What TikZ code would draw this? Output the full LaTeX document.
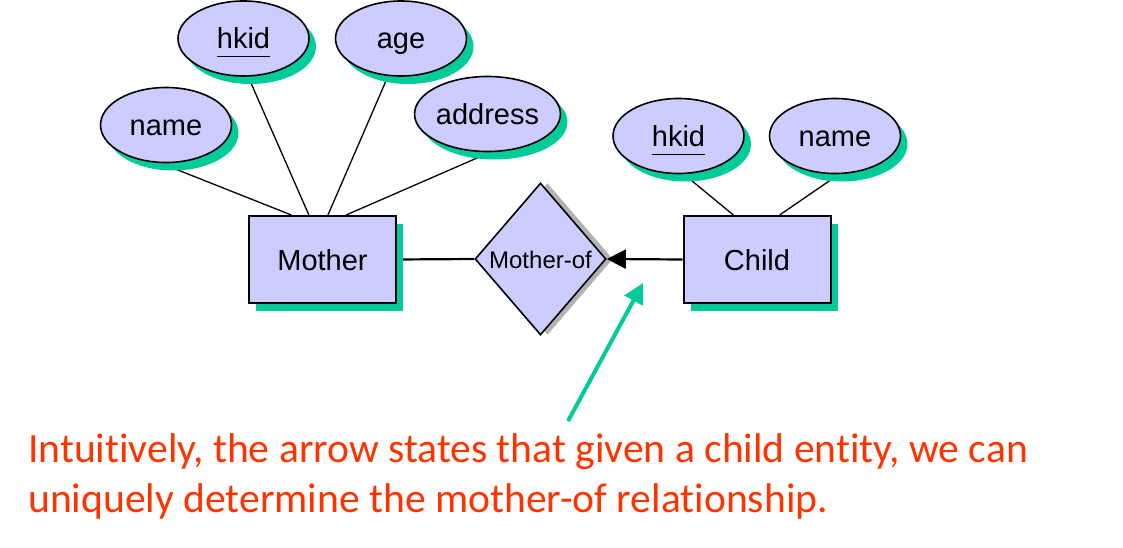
\documentclass[tikz,border=0pt]{standalone}
\usepackage{fontspec}
\setmainfont{Liberation Sans}
\newfontfamily\notefont[Ligatures={NoCommon}]{Carlito}
\usetikzlibrary{shapes.geometric,shadows,arrows.meta,backgrounds}
\definecolor{erfill}{HTML}{CCCCFF}
\definecolor{ershadow}{HTML}{00CC99}
\definecolor{notered}{HTML}{FF3300}
\newcommand\keyattr[1]{\underline{#1\vphantom{g}}}
\tikzset{
  attr/.style={ellipse, draw, line width=1.6pt, fill=erfill, minimum width=131pt, minimum height=75pt, inner sep=0pt,
    font=\fontsize{29}{33}\selectfont, text height=27pt, text depth=6pt,
    general shadow={fill=ershadow, shadow xshift=7pt, shadow yshift=-8pt}},
  entity/.style={rectangle, draw, line width=2pt, fill=erfill, minimum width=147pt, minimum height=87pt, inner sep=0pt,
    font=\fontsize{29}{33}\selectfont, text height=27pt, text depth=6pt,
    general shadow={fill=ershadow, shadow xshift=7pt, shadow yshift=-8pt}},
  rel/.style={diamond, draw, line width=1.6pt, fill=erfill, minimum width=131pt, minimum height=152pt, inner sep=0pt,
    font=\fontsize{24}{28}\selectfont, text height=23pt, text depth=5pt,
    general shadow={fill=black!30, shadow xshift=7pt, shadow yshift=0pt}},
  link/.style={line width=1.3pt},
  rellink/.style={line width=2.2pt},
  note/.style={text=notered, font=\notefont\fontsize{41.6}{50}\selectfont, anchor=base west, inner sep=0pt},
  pointer/.style={draw=ershadow, line width=4pt, -{Triangle[length=20pt,width=20pt]}}
}
\begin{document}
\begin{tikzpicture}[x=1pt,y=-1pt]
\useasboundingbox (0,0) rectangle (1123,548);
\node[attr] (mname) at (166,125) {name};
\node[attr] (mhkid) at (243.5,38.5) {\keyattr{hkid}};
\node[attr] (mage) at (401,38.5) {age};
\node[attr] (maddr) at (487.5,114) {address};
\node[attr] (chkid) at (678.5,136) {\keyattr{hkid}};
\node[attr] (cname) at (835,136) {name};
\node[entity] (mother) at (322.5,259.5) {Mother};
\node[entity] (child) at (757,259.5) {Child};
\node[rel] (motherof) at (540.5,259) {Mother-of};
\begin{pgfonlayer}{background}
\draw[link] (mname.262) -- (mother.125);
\draw[link] (mhkid.277) -- (mother.107);
\draw[link] (mage.251) -- (mother.83);
\draw[link] (maddr.274) -- (mother.62.6);
\draw[link] (chkid.278) -- (child.118);
\draw[link] (cname.276) -- (child.63);
\draw[rellink] (mother.east) -- (motherof.west);
\end{pgfonlayer}
\draw[rellink, -{Triangle[length=19pt,width=19pt]}] (child.west) -- (motherof.east);
\coordinate (gtail) at (568,421);
\coordinate (ghead) at (643,283);
\draw[pointer] (gtail) -- (ghead);
\node[note] (line1) at (28,462) {Intuitively, the arrow states that given a child entity, we can};
\node[note] (line2) at (28,512) {uniquely determine the mother-of relationship.};
\end{tikzpicture}
\end{document}
